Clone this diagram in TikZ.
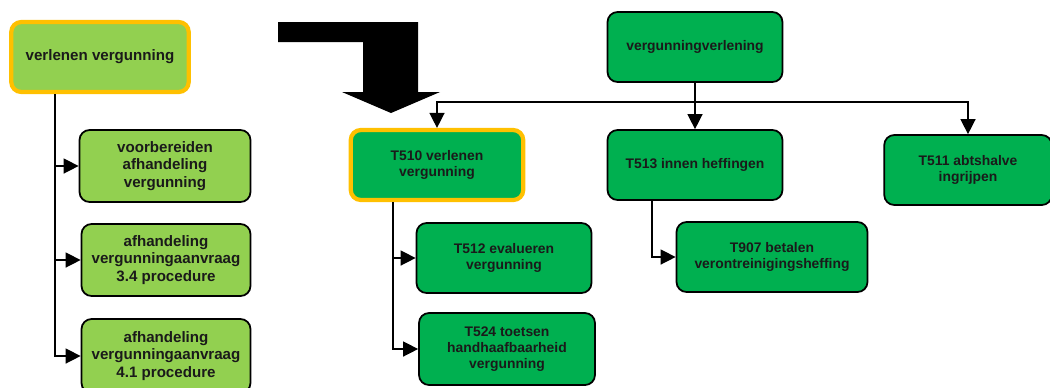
\documentclass[tikz,border=0pt]{standalone}
\usepackage{fontspec}
\setmainfont{Liberation Sans}
\usepackage{tikz}
\usetikzlibrary{arrows.meta,positioning,calc}
\definecolor{lgreen}{HTML}{92D050}
\definecolor{dgreen}{HTML}{00B050}
\definecolor{hilite}{HTML}{FFC000}
\definecolor{txt}{HTML}{1A1A1A}
\tikzset{
  taskbox/.style={draw=black,line width=1pt,rounded corners=0.2cm,align=center,
    text=txt,font=\bfseries\fontsize{7.9}{9.2}\selectfont,inner sep=2pt},
  oldbox/.style={taskbox,fill=lgreen,font=\bfseries\fontsize{8.6}{10}\selectfont},
  newbox/.style={taskbox,fill=dgreen},
  focus/.style={draw=hilite,line width=2.4pt},
  conn/.style={line width=0.8pt},
  arr/.style={conn,-{Triangle[length=0.3cm,width=0.3cm]}}
}
\begin{document}
\begin{tikzpicture}[x=0.02cm,y=-0.02cm]
\useasboundingbox (0,0) rectangle (1050,387);
% old structure
\node[oldbox,focus,minimum width=3.55cm,minimum height=1.4cm] (oldroot) at (100,57) {verlenen vergunning};
\node[oldbox,minimum width=3.42cm,minimum height=1.44cm] (prep) at (165,166) {voorbereiden\\afhandeling\\vergunning};
\node[oldbox,minimum width=3.38cm,minimum height=1.44cm] (proc34) at (166,260) {afhandeling\\vergunningaanvraag\\3.4 procedure};
\node[oldbox,minimum width=3.38cm,minimum height=1.48cm] (proc41) at (166,356) {afhandeling\\vergunningaanvraag\\4.1 procedure};
\draw[arr] ([xshift=-0.9cm]oldroot.south) |- (prep);
\draw[arr] ([xshift=-0.9cm]oldroot.south) |- (proc34);
\draw[arr] ([xshift=-0.9cm]oldroot.south) |- (proc41);
% big arrow
\fill[black] (278,22) -- (418,22) -- (418,92) -- (440,92) -- (391,113) -- (342,92)
  -- (363,92) -- (363,42) -- (278,42) -- cycle;
% new structure
\node[newbox,minimum width=3.5cm,minimum height=1.4cm] (top) at (695,47) {vergunningverlening};
\node[newbox,focus,minimum width=3.45cm,minimum height=1.4cm] (t510) at (437,165) {T510 verlenen\\vergunning};
\node[newbox,minimum width=3.5cm,minimum height=1.4cm] (t513) at (695,165) {T513 innen heffingen};
\node[newbox,minimum width=3.35cm,minimum height=1.4cm] (t511) at (968,170) {T511 abtshalve\\ingrijpen};
\node[newbox,minimum width=3.5cm,minimum height=1.4cm] (t512) at (504,258) {T512 evalueren\\vergunning};
\node[newbox,minimum width=3.52cm,minimum height=1.44cm] (t524) at (507,349) {T524 toetsen\\handhaafbaarheid\\vergunning};
\node[newbox,minimum width=3.82cm,minimum height=1.4cm] (t907) at (772,257) {T907 betalen\\verontreinigingsheffing};
\coordinate (bus) at (695,102);
\draw[arr] (top) -- (t513);
\draw[arr] (bus) -| (t510.north);
\draw[arr] (bus) -| (t511.north);
\draw[arr] ([xshift=-0.88cm]t510.south) |- (t512);
\draw[arr] ([xshift=-0.88cm]t510.south) |- (t524);
\draw[arr] ([xshift=-0.86cm]t513.south) |- (t907);
\end{tikzpicture}
\end{document}
